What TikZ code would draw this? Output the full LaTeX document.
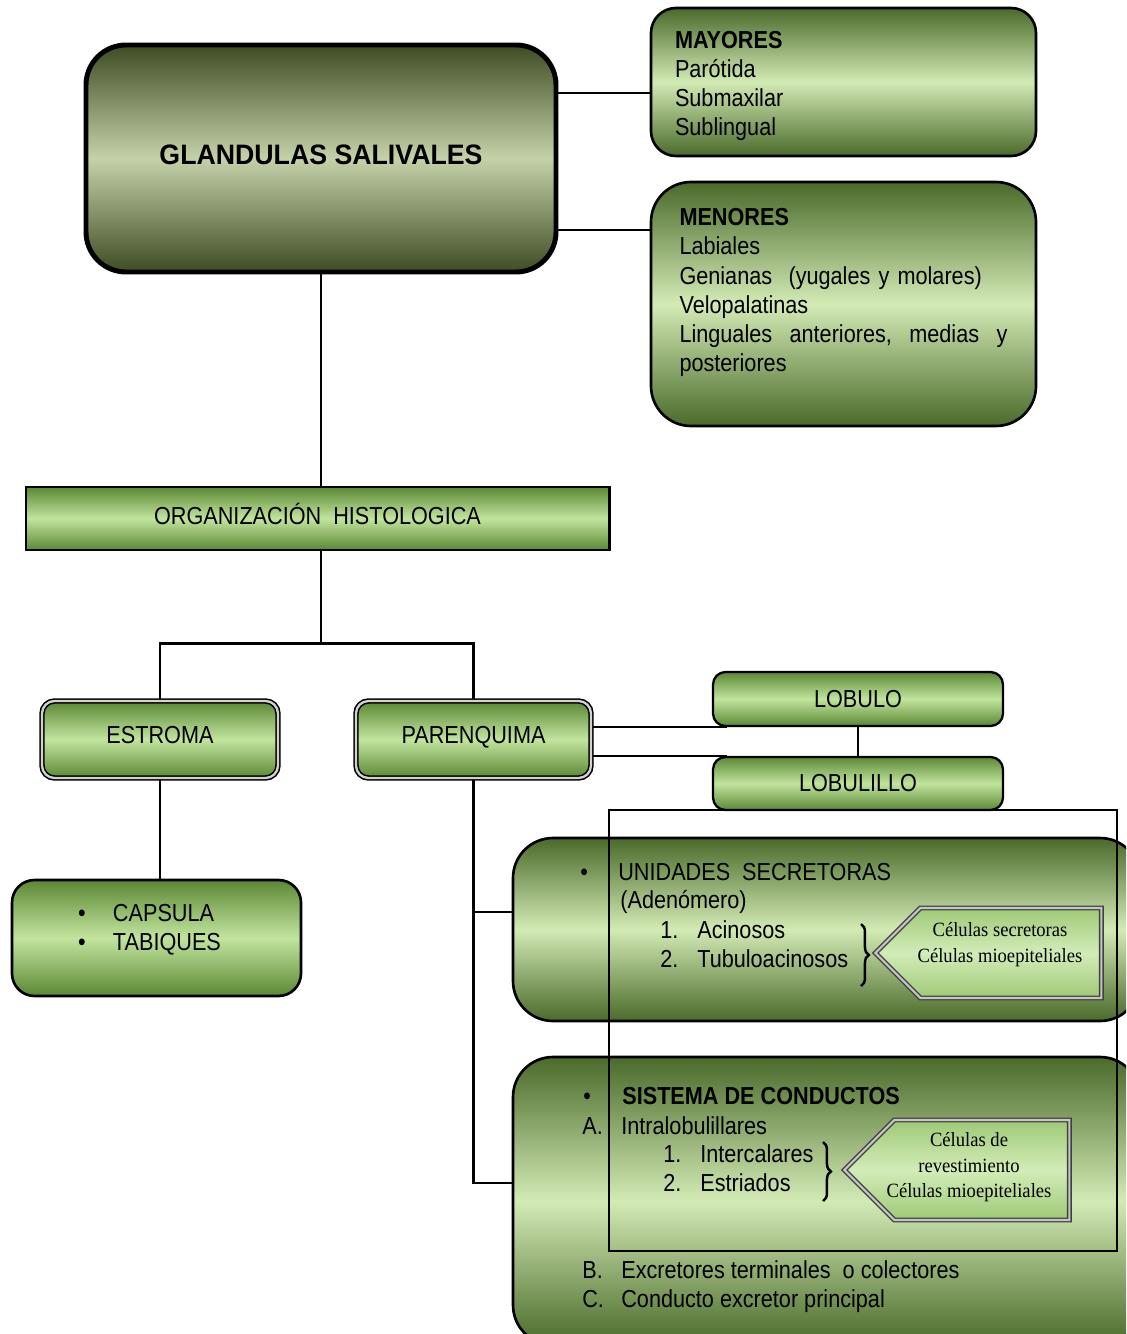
\documentclass[tikz,border=0pt]{standalone}
\usepackage{fontspec}
\setmainfont{Liberation Sans}
\newfontfamily\narrowfont{Liberation Sans}[FakeStretch=0.88]
\newfontfamily\titlefont{Liberation Sans}[FakeStretch=0.95]
\newfontfamily\cellfont{Liberation Serif}[FakeStretch=0.92]
\usetikzlibrary{shapes.symbols,decorations.pathreplacing,backgrounds}

\definecolor{glandark}{HTML}{3E4C24}
\definecolor{glanlight}{HTML}{C5D1A9}
\definecolor{olivedark}{HTML}{4A6A2A}
\definecolor{olivelight}{HTML}{D3EAB5}
\definecolor{leafdark}{HTML}{5B8834}
\definecolor{leaflight}{HTML}{C2E49E}
\definecolor{celldark}{HTML}{9FC976}
\definecolor{celllight}{HTML}{D2ECB8}

\tikzset{
  txt/.style={font=\narrowfont\fontsize{14}{16.6}\selectfont},
  glanbox/.style={draw, line width=2.8pt, rounded corners=0.8cm,
    top color=glandark, bottom color=glandark, middle color=glanlight},
  olivebox/.style={draw, line width=1.5pt, txt,
    top color=olivedark, bottom color=olivedark, middle color=olivelight},
  leafbox/.style={draw, line width=1.3pt, txt, rounded corners=0.25cm,
    top color=leafdark, bottom color=leafdark, middle color=leaflight},
  ringbox/.style={leafbox, draw=black, double=gray!35, double distance=1.3pt,
    line width=0.9pt, text height=0.35cm, text depth=0.2cm},
  cellbox/.style={signal, signal to=west, signal pointer angle=90,
    draw=black!75, double=gray!45, double distance=1.2pt, line width=0.8pt,
    top color=celldark, bottom color=celldark, middle color=celllight},
  celltxt/.style={align=center, inner sep=0pt, font=\cellfont\fontsize{11.5}{14.5}\selectfont},
  link/.style={line width=1.2pt},
  bracket/.style={decorate, decoration={brace, amplitude=4.5pt}, line width=1.4pt},
  txtline/.style={txt, anchor=base west, inner sep=0pt},
}

\begin{document}
\begin{tikzpicture}
\useasboundingbox (0,0) rectangle (22.52,-26.68);
\clip (0,0) rectangle (22.52,-26.68);

% glandulas y su clasificacion
\node[glanbox, minimum width=9.4cm, minimum height=4.54cm, text depth=0.14cm,
  font=\titlefont\bfseries\fontsize{16}{19}\selectfont] (glan) at (6.42,-3.17) {GLANDULAS SALIVALES};
\node[olivebox, rounded corners=0.5cm, minimum height=2.96cm, inner xsep=0.48cm,
  text width=6.74cm, align=left] (mayores) at (16.87,-1.64)
  {\rule{0pt}{0.5cm}\textbf{MAYORES}\\Parótida\\Submaxilar\\Sublingual};
\node[olivebox, rounded corners=0.8cm, minimum height=4.88cm, inner xsep=0.57cm,
  text width=6.56cm, align=left] (menores) at (16.87,-6.08)
  {\textbf{MENORES}\\Labiales\\Genianas~~(yugales y molares)\\Velopalatinas\\
   \makebox[6.56cm][l]{Linguales\hfill anteriores,\hfill medias\hfill y}\\posteriores\rule[-0.56cm]{0pt}{0pt}};

% organizacion histologica
\node[leafbox, rounded corners=0pt, line width=1.7pt, minimum width=11.66cm,
  minimum height=1.26cm, text height=0.38cm, text depth=0.16cm] (org) at (6.35,-10.37) {ORGANIZACIÓN~~HISTOLOGICA};
\node[ringbox, minimum width=4.72cm, minimum height=1.54cm] (estroma) at (3.2,-14.79) {ESTROMA};
\node[ringbox, minimum width=4.7cm, minimum height=1.54cm] (parenquima) at (9.47,-14.79) {PARENQUIMA};
\node[leafbox, minimum width=5.8cm, minimum height=1.08cm] (lobulo) at (17.16,-13.98) {LOBULO};
\node[leafbox, minimum width=5.8cm, minimum height=1.06cm] (lobulillo) at (17.16,-15.67) {LOBULILLO};
\node[leafbox, rounded corners=0.45cm, line width=1.5pt, minimum width=5.78cm,
  minimum height=2.32cm, inner xsep=1.32cm, text width=3.14cm, align=left] (capsula) at (3.13,-18.76)
  {\makebox[0.7cm][l]{\textbullet}CAPSULA\\\makebox[0.7cm][l]{\textbullet}TABIQUES\rule[-0.44cm]{0pt}{0pt}};

% parenquima: unidades secretoras
\node[olivebox, rounded corners=0.8cm, minimum width=12.54cm, minimum height=3.66cm] (unidades) at (16.53,-18.59) {};
\node[txtline] (unibul) at (11.6,-17.6) {\textbullet};
\node[txtline] (unihead) at (12.36,-17.6) {UNIDADES~~SECRETORAS};
\node[txtline] (adeno) at (12.4,-18.16) {(Adenómero)};
\node[txtline] (acinum) at (13.2,-18.76) {1.};
\node[txtline] (acino) at (13.94,-18.76) {Acinosos};
\node[txtline] (tubnum) at (13.2,-19.34) {2.};
\node[txtline] (tubulo) at (13.94,-19.34) {Tubuloacinosos};
\draw[bracket] (17.22,-18.48) -- (17.22,-19.72);
\node[cellbox, anchor=east, minimum width=4.52cm, minimum height=1.8cm] (secret) at (22.04,-19.06) {};
\node[celltxt] (secretxt) at (20.0,-18.89) {Células secretoras\\Células mioepiteliales};

% parenquima: sistema de conductos
\node[olivebox, rounded corners=0.8cm, minimum width=12.54cm, minimum height=5.76cm] (sistema) at (16.53,-24.02) {};
\node[txtline] (sisbul) at (11.66,-22.08) {\textbullet};
\node[txtline] (sishead) at (12.44,-22.08) {\textbf{SISTEMA DE CONDUCTOS}};
\node[txtline] (intranum) at (11.64,-22.68) {A.};
\node[txtline] (intra) at (12.42,-22.68) {Intralobulillares};
\node[txtline] (intnum) at (13.26,-23.24) {1.};
\node[txtline] (interc) at (14.0,-23.24) {Intercalares};
\node[txtline] (estnum) at (13.26,-23.82) {2.};
\node[txtline] (estri) at (14.0,-23.82) {Estriados};
\draw[bracket] (16.46,-22.84) -- (16.46,-24.02);
\node[cellbox, anchor=east, minimum width=4.5cm, minimum height=2.0cm] (revest) at (21.4,-23.4) {};
\node[celltxt] (revestxt) at (19.38,-23.35) {Células de\\revestimiento\\Células mioepiteliales};
\node[txtline] (excnum) at (11.64,-25.56) {B.};
\node[txtline] (excret) at (12.42,-25.56) {Excretores terminales~~o colectores};
\node[txtline] (condnum) at (11.64,-26.14) {C.};
\node[txtline] (cond) at (12.42,-26.14) {Conducto excretor principal};

% conectores
\begin{scope}[on background layer]
\draw[link] ([yshift=-0.22cm]mayores.west) -- ([yshift=-0.22cm]mayores.west -| glan.east);
\draw[link] (menores.west |- 0,-4.6) -- (glan.east |- 0,-4.6);
\draw[link] (glan.south) -- (glan.south |- org.north);
\draw[link] (org.south -| glan.south) -- ++(0,-1.84) coordinate (split);
\draw[link] (estroma.north) |- (split) -| (parenquima.north);
\draw[link] (parenquima.east |- lobulo.south west) -- ([xshift=0.3cm]lobulo.south west);
\draw[link] (parenquima.east |- lobulillo.north west) -- ([xshift=0.3cm]lobulillo.north west);
\draw[link] (lobulo) -- (lobulillo);
\draw[link] (estroma.south) -- (estroma.south |- capsula.north);
\draw[link] (parenquima.south) |- (unidades.west |- 0,-18.24);
\draw[link] (parenquima.south) |- (sistema.west |- 0,-23.66);
\end{scope}

% marco del lobulillo
\draw[link] (12.18,-16.2) rectangle (22.34,-25.02);
\end{tikzpicture}
\end{document}
